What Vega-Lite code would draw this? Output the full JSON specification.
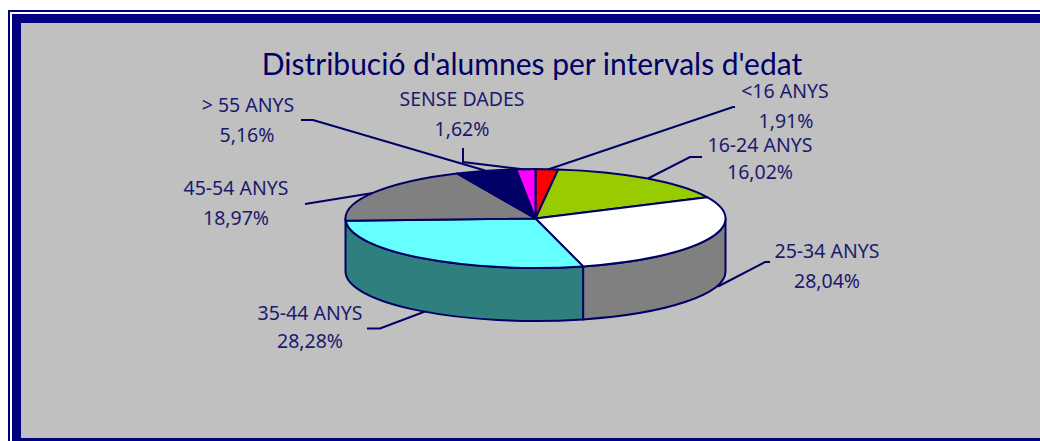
{
"$schema":"https://vega.github.io/schema/vega-lite/v6.json",
"width":1040,"height":441,"padding":0,"autosize":{"type":"none"},"background":"#ffffff",
"view":{"stroke":null},
"title":{"text":"Distribució d'alumnes per intervals d'edat","anchor":"middle","orient":"top","offset":0,"dx":12,"dy":96,"baseline":"middle","font":"Lato","fontSize":30,"fontWeight":"normal","color":"#000066"},
"datasets":{
"frame":[{"part":"outer"},{"part":"gap"},{"part":"inner"},{"part":"panel"}],
"slices":[
{"label":"<16 ANYS","percent":1.91,"text":"1,91%","order":1},
{"label":"16-24 ANYS","percent":16.02,"text":"16,02%","order":2},
{"label":"25-34 ANYS","percent":28.04,"text":"28,04%","order":3},
{"label":"35-44 ANYS","percent":28.28,"text":"28,28%","order":4},
{"label":"45-54 ANYS","percent":18.97,"text":"18,97%","order":5},
{"label":"> 55 ANYS","percent":5.16,"text":"5,16%","order":6},
{"label":"SENSE DADES","percent":1.62,"text":"1,62%","order":7}],
"pie":[
{"part":"side 25-34"},{"part":"side 35-44"},
{"part":"<16 ANYS"},{"part":"16-24 ANYS"},{"part":"25-34 ANYS"},{"part":"35-44 ANYS"},{"part":"45-54 ANYS"},{"part":"> 55 ANYS"},{"part":"SENSE DADES"}]
},
"layer":[
{"data":{"name":"frame"},
"mark":{"type":"point","filled":true,"size":4,"opacity":1,"strokeWidth":0},
"encoding":{
"shape":{"field":"part","type":"nominal","legend":null,"scale":{"domain":["outer","gap","inner","panel"],"range":[
"M-512,-210.5L520,-210.5L520,220.5L-512,220.5Z",
"M-510,-208.5L520,-208.5L520,220.5L-510,220.5Z",
"M-508,-206.5L520,-206.5L520,220.5L-508,220.5Z",
"M-499,-197.5L520,-197.5L520,217.5L-499,217.5Z"]}},
"fill":{"field":"part","type":"nominal","legend":null,"scale":{"domain":["outer","gap","inner","panel"],"range":["#000080","#ffffff","#000080","#c0c0c0"]}}
}},
{"data":{"name":"pie"},
"mark":{"type":"point","filled":true,"size":4,"opacity":1,"stroke":"#000066","strokeWidth":2,"strokeJoin":"round"},
"encoding":{
"shape":{"field":"part","type":"nominal","legend":null,"sort":null,"scale":{"domain":["side 25-34","side 35-44","<16 ANYS","16-24 ANYS","25-34 ANYS","35-44 ANYS","45-54 ANYS","> 55 ANYS","SENSE DADES"],"range":[
"M63.1,45.9A190,49.5 0 0 0 205.5,-2L205.5,51A190,49.5 0 0 1 63.1,98.9Z",
"M63.1,45.9A190,49.5 0 0 1 -174.5,-2L-174.5,51A190,49.5 0 0 0 63.1,98.9Z",
"M15.5,-2L15.5,-51.5A190,49.5 0 0 1 38.2,-51.1Z",
"M15.5,-2L38.2,-51.1A190,49.5 0 0 1 187.1,-23.3Z",
"M15.5,-2L187.1,-23.3A190,49.5 0 0 1 63.1,45.9Z",
"M15.5,-2L63.1,45.9A190,49.5 0 0 1 -174.3,0.3Z",
"M15.5,-2L-174.3,0.3A190,49.5 0 0 1 -63,-47.1Z",
"M15.5,-2L-63,-47.1A190,49.5 0 0 1 -3.8,-51.2Z",
"M15.5,-2L-3.8,-51.2A190,49.5 0 0 1 15.5,-51.5Z"]}},
"fill":{"field":"part","type":"nominal","legend":null,"scale":{"domain":["side 25-34","side 35-44","<16 ANYS","16-24 ANYS","25-34 ANYS","35-44 ANYS","45-54 ANYS","> 55 ANYS","SENSE DADES"],"range":["#808080","#2f7f7f","#ff0000","#99cc00","#ffffff","#66ffff","#808080","#000066","#ff00ff"]}}
}},
{"data":{"name":"slices"},
"mark":{"type":"point","filled":false,"size":4,"opacity":1,"fillOpacity":0,"stroke":"#000066","strokeWidth":2},
"encoding":{
"shape":{"field":"label","type":"nominal","legend":null,"sort":null,"scale":{"domain":["<16 ANYS","16-24 ANYS","25-34 ANYS","35-44 ANYS","45-54 ANYS","> 55 ANYS","SENSE DADES"],"range":[
"M28,-51L213,-113.5L215,-113.5",
"M128,-42L170,-63.5L182,-63.5",
"M198,66L245,41.5L250,41.5",
"M-153,108L-140,108L-95,91",
"M-215,-16.5L-147,-27.5",
"M-219,-100.5L-207,-100.5L-35,-50",
"M-57,-72.5L-57,-58.5L5,-51"]}}
}},
{"data":{"name":"slices"},
"mark":{"type":"text","align":"center","baseline":"middle","font":"Noto Sans","fontSize":19.5,"color":"#1a1a6e"},
"encoding":{
"text":{"field":"label"},
"x":{"field":"order","type":"quantitative","axis":null,"scale":{"domain":[1,2,3,4,5,6,7],"range":[785,760,827,310,236,248,462],"nice":false,"zero":false}},
"y":{"field":"order","type":"quantitative","axis":null,"scale":{"domain":[1,2,3,4,5,6,7],"range":[92,146,252,314,189,106,100],"nice":false,"zero":false}}
}},
{"data":{"name":"slices"},
"mark":{"type":"text","align":"center","baseline":"middle","font":"Noto Sans","fontSize":19.5,"color":"#1a1a6e"},
"encoding":{
"text":{"field":"text"},
"x":{"field":"order","type":"quantitative","axis":null,"scale":{"domain":[1,2,3,4,5,6,7],"range":[786,760,827,310,236,247,462],"nice":false,"zero":false}},
"y":{"field":"order","type":"quantitative","axis":null,"scale":{"domain":[1,2,3,4,5,6,7],"range":[122,173,282,342,219,136,130],"nice":false,"zero":false}}
}}
],
"resolve":{"scale":{"x":"independent","y":"independent","shape":"independent","fill":"independent"}}
}
